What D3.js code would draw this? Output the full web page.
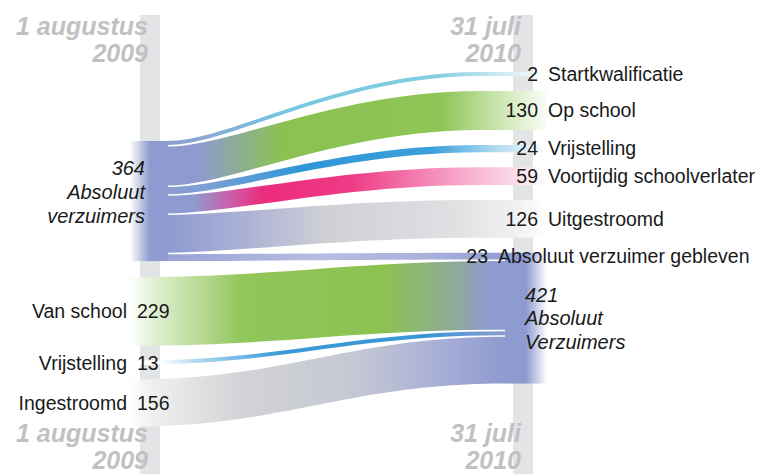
<!DOCTYPE html>
<html><head><meta charset="utf-8">
<script src="https://cdn.jsdelivr.net/npm/d3@7"></script>
<style>
html,body{margin:0;padding:0;background:#fff;}
svg{display:block;}
text{font-family:"Liberation Sans",Arial,Helvetica,sans-serif;}
</style></head><body>
<svg id="chart" width="763" height="474"></svg>
<script>
// ---------- data ----------
const outcomeNames = ["Startkwalificatie", "Op school", "Vrijstelling", "Voortijdig schoolverlater", "Uitgestroomd", "Absoluut verzuimer gebleven"];
const outcomeValues = [2, 130, 24, 59, 126, 23];
const inflowNames = ["Van school", "Vrijstelling", "Ingestroomd"];
const inflowValues = [229, 13, 156];
const startTotal = 364;
const endTotal = 421;
const startNodeLabel = ["Absoluut", "verzuimers"];
const endNodeLabel = ["Absoluut", "Verzuimers"];
const startDate = ["1 augustus", "2009"];
const endDate = ["31 juli", "2010"];

// ---------- styles ----------
const NODE = "#8e9bd0";
const outcomeStops = [
  [[0, NODE], [0.1, "#8aa8d6"], [0.28, "#74c5de"], [0.72, "#84cfe3"], [0.88, "#cdebf4"], [1, "#ffffff"]],
  [[0, NODE], [0.08, NODE], [0.3, "#8cc152"], [0.72, "#8dc556"], [0.86, "#c6e3a8"], [1, "#fbfdf8"]],
  [[0, NODE], [0.1, "#7d9fd4"], [0.35, "#2f97d7"], [0.7, "#3ba0da"], [0.86, "#acd8f0"], [1, "#ffffff"]],
  [[0, NODE], [0.07, NODE], [0.17, "#d05aa6"], [0.25, "#ec2b7c"], [0.48, "#ee3a85"], [0.74, "#f59cc3"], [0.9, "#fbd5e6"], [1, "#ffffff"]],
  [[0, NODE], [0.2, "#abb1d5"], [0.42, "#cfd0d6"], [0.75, "#dfe0e2"], [0.92, "#f1f1f2"], [1, "#ffffff"]],
  [[0, "#98a3d4"], [0.45, "#b7bde2"], [0.8, "#a7afdc"], [1, NODE]]
];
const inflowStops = [
  [[0, "#ffffff"], [0.05, "#e6f2da"], [0.3, "#90c65a"], [0.68, "#8cc152"], [0.86, "#8fab96"], [0.96, NODE], [1, NODE]],
  [[0, "#ffffff"], [0.08, "#ffffff"], [0.2, "#a3d1ee"], [0.4, "#3a9ad6"], [0.8, "#3a95d5"], [1, NODE]],
  [[0, "#ffffff"], [0.06, "#efeff0"], [0.3, "#d2d3d6"], [0.6, "#c5c8d4"], [0.86, "#a3abd5"], [1, NODE]]
];
const BAR = "#e3e4e6";
const DATE = "#c1c1c3";
const INK = "#1a1a1a";

// ---------- layout ----------
const svg = d3.select("#chart");
const W = 763, H = 474;
const x = d3.scaleLinear().domain([0, 1]).range([150, 523]);   // the two moments in time
const thick = d3.scaleLinear().domain([0, 100]).range([0, 30]); // value -> band thickness
const bw = v => Math.max(4, thick(v));
const sep = 1.5, gap = 15;

const leftNode = {x0: x(0) - 20, x1: x(0) + 18, y0: 141};
const rightX0 = x(1) - 18, rightX1 = x(1) + 24, curveEnd = x(1) - 43;

// left node stack
let yy = leftNode.y0;
const outs = outcomeNames.map((n, i) => {
  const t = bw(outcomeValues[i]);
  const o = {name: n, value: outcomeValues[i], i, t, l0: yy, l1: yy + t};
  yy += t + sep;
  return o;
});
leftNode.y1 = yy - sep;

// right targets stack
yy = 72;
outs.forEach(o => { o.r0 = yy; o.r1 = yy + o.t; yy += o.t + gap; });
const kept = outs[outs.length - 1];

// right node stack (kept + inflows)
const rightNode = {y0: kept.r0};
yy = kept.r1 + sep;
let ly = 277;
const ins = inflowNames.map((n, i) => {
  const t = bw(inflowValues[i]);
  const o = {name: n, value: inflowValues[i], i, t, l0: ly, l1: ly + t, r0: yy, r1: yy + t};
  ly += t + gap;
  yy += t + sep;
  return o;
});
rightNode.y1 = yy - sep;

function band(xa, xb, ya0, ya1, yb0, yb1, xe, c1, c2) {
  const dx = xb - xa;
  const p = d3.path();
  p.moveTo(xa, ya0);
  p.bezierCurveTo(xa + c1 * dx, ya0, xb - c2 * dx, yb0, xb, yb0);
  if (xe > xb) { p.lineTo(xe, yb0); p.lineTo(xe, yb1); }
  p.lineTo(xb, yb1);
  p.bezierCurveTo(xb - c2 * dx, yb1, xa + c1 * dx, ya1, xa, ya1);
  p.closePath();
  return p.toString();
}

const defs = svg.append("defs");
function grad(id, xa, xb, stops) {
  const g = defs.append("linearGradient").attr("id", id)
    .attr("gradientUnits", "userSpaceOnUse")
    .attr("x1", xa).attr("x2", xb).attr("y1", 0).attr("y2", 0);
  g.selectAll("stop").data(stops).join("stop")
    .attr("offset", d => d[0]).attr("stop-color", d => d[1]);
  return `url(#${id})`;
}

// ---------- background bars ----------
svg.append("g").selectAll("rect").data([0, 1]).join("rect")
  .attr("x", d => x(d) - 10).attr("width", 20)
  .attr("y", 15).attr("height", H - 15)
  .attr("fill", BAR);

// ---------- flows ----------
const gFlows = svg.append("g");
outs.forEach(o => {
  const isKept = o === kept;
  const xb = isKept ? rightX0 : curveEnd;
  const xe = isKept ? rightX0 : rightX1;
  const fill = grad("go" + o.i, leftNode.x1, isKept ? rightX0 : rightX1, outcomeStops[o.i]);
  gFlows.append("path")
    .attr("d", band(leftNode.x1, xb, o.l0, o.l1, o.r0, o.r1, xe, 0.2, 0.45))
    .attr("fill", fill);
});
ins.forEach(o => {
  const fill = grad("gi" + o.i, leftNode.x0, rightX0, inflowStops[o.i]);
  gFlows.append("path")
    .attr("d", band(leftNode.x0, rightX0, o.l0, o.l1, o.r0, o.r1, rightX0, 0.42, 0.42))
    .attr("fill", fill);
});

// ---------- nodes ----------
svg.append("rect")
  .attr("x", leftNode.x0).attr("width", leftNode.x1 - leftNode.x0)
  .attr("y", leftNode.y0).attr("height", leftNode.y1 - leftNode.y0)
  .attr("fill", grad("gln", leftNode.x0, leftNode.x1, [[0, "#ffffff"], [0.52, NODE], [1, NODE]]));
svg.append("rect")
  .attr("x", rightX0).attr("width", rightX1 - rightX0)
  .attr("y", rightNode.y0).attr("height", rightNode.y1 - rightNode.y0)
  .attr("fill", grad("grn", rightX0, rightX1, [[0, NODE], [0.5, NODE], [1, "#ffffff"]]));

// ---------- labels ----------
const fs = 19.5;
const gL = svg.append("g").attr("fill", INK).style("font-size", fs + "px");
outs.forEach(o => {
  const isKept = o === kept;
  const xn = isKept ? x(1) - 35 : x(1) + 15;
  const cy = (o.r0 + o.r1) / 2 + fs * 0.35;
  gL.append("text").attr("x", xn).attr("y", cy).attr("text-anchor", "end").text(o.value);
  gL.append("text").attr("x", xn + 10).attr("y", cy).text(o.name);
});
ins.forEach(o => {
  const cy = (o.l0 + o.l1) / 2 + fs * 0.35;
  gL.append("text").attr("x", x(0) - 23).attr("y", cy).attr("text-anchor", "end").text(o.name);
  gL.append("text").attr("x", x(0) - 13).attr("y", cy).text(o.value);
});

// node labels (italic)
const lcy = (leftNode.y0 + leftNode.y1) / 2;
svg.append("g").attr("fill", INK).style("font-size", "20px").style("font-style", "italic")
  .selectAll("text").data([String(startTotal)].concat(startNodeLabel)).join("text")
  .attr("x", x(0) - 5).attr("y", (d, i) => lcy - 26 + i * 24)
  .attr("text-anchor", "end").text(d => d);
svg.append("g").attr("fill", INK).style("font-size", "20px").style("font-style", "italic")
  .selectAll("text").data([String(endTotal)].concat(endNodeLabel)).join("text")
  .attr("x", x(1) + 2).attr("y", (d, i) => rightNode.y0 + 49 + i * 23.5)
  .text(d => d);

// ---------- dates ----------
const gD = svg.append("g").attr("fill", DATE)
  .style("font-size", "25px").style("font-weight", "bold").style("font-style", "italic")
  .attr("text-anchor", "end");
[[0, startDate], [1, endDate]].forEach(([t, lines]) => {
  [35, 442].forEach(base => {
    lines.forEach((s, i) => {
      gD.append("text").attr("x", x(t) - 2).attr("y", base + i * 27).text(s);
    });
  });
});
</script>
</body></html>
